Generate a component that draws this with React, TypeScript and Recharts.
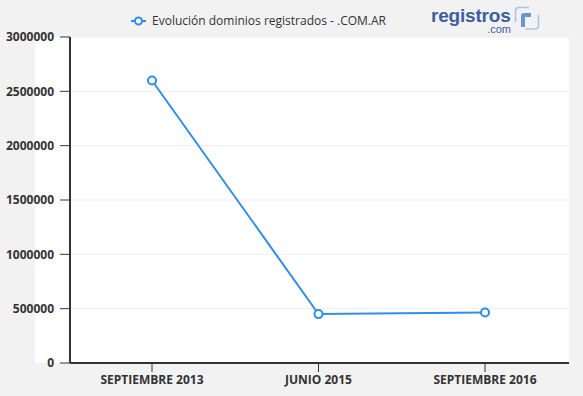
import React from "react";
import { LineChart, Line, XAxis, YAxis, CartesianGrid, Legend } from "recharts";

const categories = ["SEPTIEMBRE 2013", "JUNIO 2015", "SEPTIEMBRE 2016"];
const dominios = [2600000, 450000, 465000];
const yTicks = [0, 500000, 1000000, 1500000, 2000000, 2500000, 3000000];
const seriesName = "Evolución dominios registrados - .COM.AR";

const data = categories.map((mes, i) => ({ mes, dominios: dominios[i] }));

const BLUE = "#2f8fe6";
const AXIS = "#333333";
const FONT = "'Open Sans', sans-serif";

const LegendContent = () => (
  <div style={{ display: "flex", alignItems: "center", height: 17, paddingLeft: 130, fontFamily: FONT }}>
    <svg width={17} height={10} style={{ marginRight: 5 }}>
      <line x1={1} y1={5} x2={16} y2={5} stroke={BLUE} strokeWidth={2} />
      <circle cx={8.5} cy={5} r={3.5} fill="#fff" stroke={BLUE} strokeWidth={2} />
    </svg>
    <span style={{ fontSize: 12, color: "#333" }}>{seriesName}</span>
  </div>
);

const Logo = () => (
  <div style={{ position: "absolute", left: 428, top: 0, width: 120, height: 37 }}>
    <div
      style={{
        position: "absolute",
        left: 3,
        top: 7,
        fontFamily: "Arial, 'Liberation Sans', sans-serif",
        fontWeight: 700,
        fontSize: 19,
        color: "#3d5f9f",
        lineHeight: "17px",
        letterSpacing: -0.2,
      }}
    >
      registros
    </div>
    <div
      style={{
        position: "absolute",
        right: 37,
        top: 24.5,
        fontFamily: "Arial, 'Liberation Sans', sans-serif",
        fontSize: 11,
        color: "#3d5f9f",
        lineHeight: "8px",
      }}
    >
      .com
    </div>
    <svg width={40} height={37} style={{ position: "absolute", left: 84, top: 0 }}>
      <path d="M 17 7.5 H 7 Q 3.5 7.5 3.5 11 V 22" fill="none" stroke="#a9c5e8" strokeWidth={1.6} />
      <path d="M 26.5 15 V 25.5 Q 26.5 29 23 29 H 13" fill="none" stroke="#a9c5e8" strokeWidth={1.6} />
      <path d="M 9 27 V 16 Q 9 13 12 13 H 19 V 17 H 13 V 27 Z" fill="#6a96d0" />
    </svg>
  </div>
);

export default function App() {
  return (
    <div
      style={{
        position: "absolute",
        left: 0,
        top: 0,
        width: 583,
        height: 396,
        background: "#f2f2f2",
        fontFamily: FONT,
        overflow: "hidden",
      }}
    >
      <div style={{ position: "absolute", left: 35, top: 37, width: 534, height: 326, background: "#ffffff" }} />
      <Logo />
      <div style={{ position: "absolute", left: 0, top: 0 }}>
        <LineChart width={583} height={396} data={data} margin={{ top: 12, right: 14, bottom: 0, left: 0 }}>
          <CartesianGrid vertical={false} stroke="#eeeeee" />
          <Legend
            verticalAlign="top"
            align="left"
            height={25}
            content={<LegendContent />}
            wrapperStyle={{ left: 0, width: 583 }}
          />
          <XAxis
            dataKey="mes"
            scale="point"
            padding={{ left: 82, right: 84 }}
            interval={0}
            height={33}
            tickSize={9}
            tickMargin={3}
            axisLine={{ stroke: AXIS, strokeWidth: 2 }}
            tickLine={{ stroke: AXIS, strokeWidth: 1 }}
            tick={{ fontSize: 12, fontWeight: 700, fill: AXIS, fontFamily: FONT }}
          />
          <YAxis
            width={70}
            domain={[0, 3000000]}
            ticks={yTicks}
            interval={0}
            tickSize={10}
            tickMargin={6}
            tickFormatter={(v: number) => String(v)}
            axisLine={{ stroke: AXIS, strokeWidth: 2 }}
            tickLine={{ stroke: AXIS, strokeWidth: 1 }}
            tick={{ fontSize: 12, fontWeight: 700, fill: AXIS, fontFamily: FONT }}
          />
          <Line
            type="linear"
            dataKey="dominios"
            name={seriesName}
            stroke={BLUE}
            strokeWidth={2}
            dot={{ r: 4, fill: "#ffffff", stroke: BLUE, strokeWidth: 2 }}
            activeDot={false}
            isAnimationActive={false}
          />
        </LineChart>
      </div>
    </div>
  );
}
